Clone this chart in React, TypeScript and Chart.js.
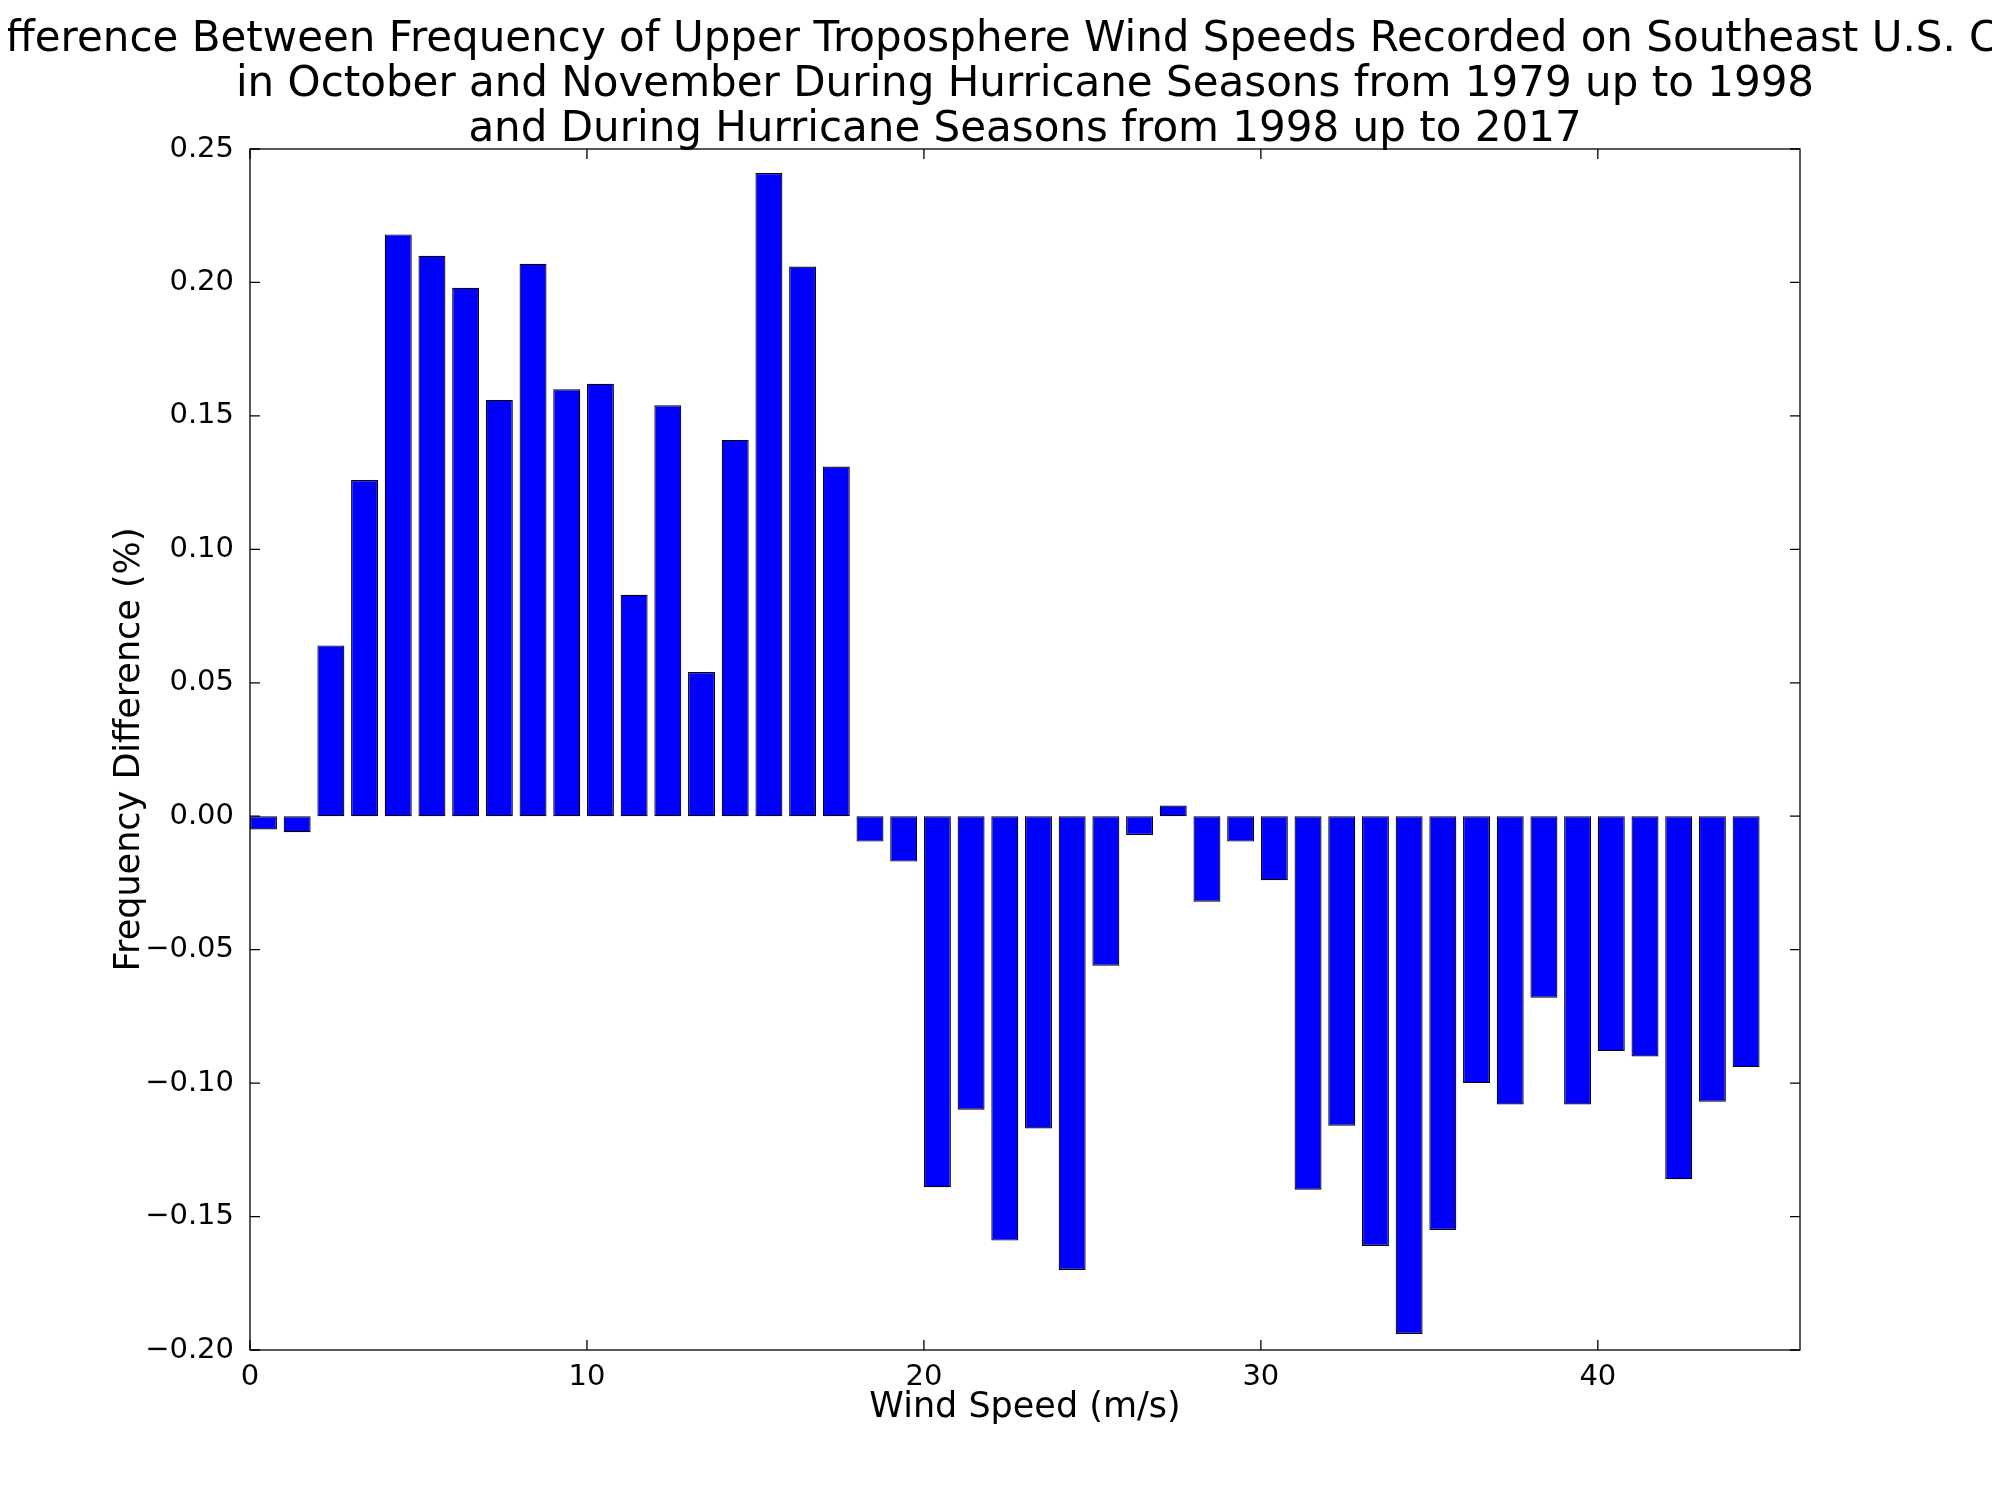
import { useEffect, useRef } from 'react'
import { Chart, registerables } from 'chart.js'

Chart.register(...registerables)

const speeds = Array.from({ length: 45 }, (_, i) => i)
const diffs = [
  -0.005, -0.006, 0.064, 0.126, 0.218, 0.21, 0.198, 0.156, 0.207, 0.16,
  0.162, 0.083, 0.154, 0.054, 0.141, 0.241, 0.206, 0.131, -0.0095, -0.017,
  -0.139, -0.11, -0.159, -0.117, -0.17, -0.056, -0.007, 0.004, -0.032, -0.0095,
  -0.024, -0.14, -0.116, -0.161, -0.194, -0.155, -0.1, -0.108, -0.068, -0.108,
  -0.088, -0.09, -0.136, -0.107, -0.094,
]
const xTicks = [0, 10, 20, 30, 40]
const titleLines = [
  'Difference Between Frequency of Upper Troposphere Wind Speeds Recorded on Southeast U.S. Coast',
  'in October and November During Hurricane Seasons from 1979 up to 1998',
  'and During Hurricane Seasons from 1998 up to 2017',
]
const xTitle = 'Wind Speed (m/s)'
const yTitle = 'Frequency Difference (%)'

const FONT = 'DejaVu Sans'
const fmt = (v: number) => v.toFixed(2).replace('-', '\u2212')

// frame, inward ticks and all titles drawn by hand, matplotlib style
const frame = {
  id: 'frame',
  afterDraw(chart: any) {
    const { ctx, chartArea: a, scales } = chart
    ctx.save()
    ctx.strokeStyle = '#000'
    ctx.lineWidth = 1.3
    ctx.strokeRect(a.left, a.top, a.right - a.left, a.bottom - a.top)
    scales.x.ticks.forEach((t: any) => {
      const x = scales.x.getPixelForValue(t.value)
      ctx.beginPath()
      ctx.moveTo(x, a.bottom); ctx.lineTo(x, a.bottom - 10)
      ctx.moveTo(x, a.top); ctx.lineTo(x, a.top + 10)
      ctx.stroke()
    })
    scales.y.ticks.forEach((t: any) => {
      const y = scales.y.getPixelForValue(t.value)
      ctx.beginPath()
      ctx.moveTo(a.left, y); ctx.lineTo(a.left + 10, y)
      ctx.moveTo(a.right, y); ctx.lineTo(a.right - 10, y)
      ctx.stroke()
    })
    const cx = (a.left + a.right) / 2
    ctx.fillStyle = '#000'
    ctx.textAlign = 'center'
    ctx.textBaseline = 'middle'
    ctx.font = `42px "${FONT}"`
    titleLines.forEach((l, i) => ctx.fillText(l, cx, 40 + i * 45))
    ctx.font = `35px "${FONT}"`
    ctx.fillText(xTitle, cx, a.bottom + 58)
    ctx.translate(a.left - 120, (a.top + a.bottom) / 2)
    ctx.rotate(-Math.PI / 2)
    ctx.fillText(yTitle, 0, 0)
    ctx.restore()
  },
}

export default function App() {
  const ref = useRef<HTMLCanvasElement>(null)
  useEffect(() => {
    if (!ref.current) return
    const chart = new Chart(ref.current, {
      type: 'bar',
      data: {
        datasets: [{
          data: speeds.map((s, i) => ({ x: s + 0.4, y: diffs[i] })),
          backgroundColor: '#0000ff',
          borderColor: '#000',
          borderWidth: 1.2,
          borderSkipped: false,
          barPercentage: 0.8,
          categoryPercentage: 1,
        }],
      },
      options: {
        animation: false,
        responsive: false,
        layout: { padding: { left: 0, right: 200, top: 149, bottom: 0 } },
        plugins: {
          legend: { display: false },
          tooltip: { enabled: false },
        },
        scales: {
          x: {
            type: 'linear',
            min: 0,
            max: 46,
            offset: false,
            grid: { display: false },
            border: { display: false },
            afterFit: (s: any) => { s.height = 150 },
            afterBuildTicks: (s: any) => { s.ticks = xTicks.map(v => ({ value: v })) },
            ticks: { color: '#000', font: { family: FONT, size: 29 }, padding: 2, maxRotation: 0 },
          },
          y: {
            min: -0.2,
            max: 0.25,
            grid: { display: false },
            border: { display: false },
            afterFit: (s: any) => { s.width = 250 },
            ticks: { stepSize: 0.05, color: '#000', font: { family: FONT, size: 29 }, padding: 8, callback: (v: any) => fmt(Number(v)) },
          },
        },
      },
      plugins: [frame],
    })
    return () => chart.destroy()
  }, [])
  return (
    <div style={{ margin: -8, width: 2000, height: 1500, background: '#fff' }}>
      <canvas ref={ref} width={2000} height={1500} />
    </div>
  )
}
